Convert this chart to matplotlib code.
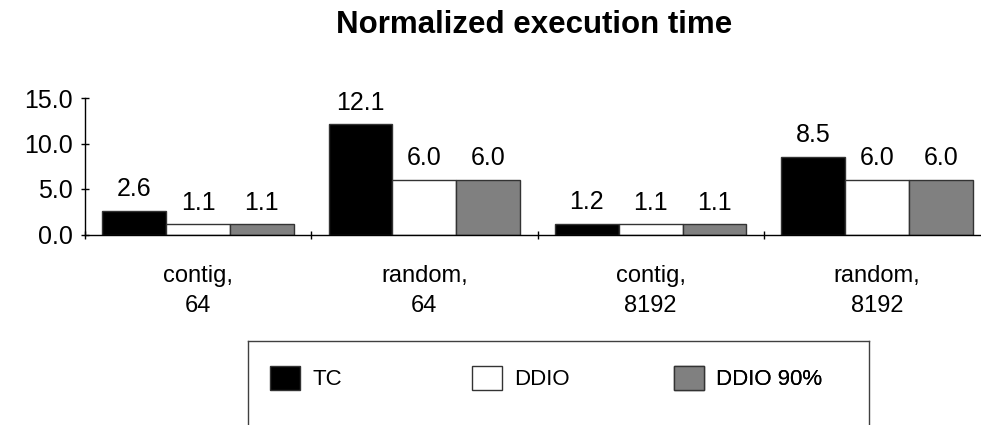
import matplotlib
matplotlib.use("Agg")
import matplotlib.pyplot as plt
import numpy as np

plt.rcParams['font.family'] = ['Liberation Sans', 'DejaVu Sans']

categories = ["contig,\n64", "random,\n64", "contig,\n8192", "random,\n8192"]
series_names = ["TC", "DDIO", "DDIO 90%"]
tc = [2.6, 12.1, 1.2, 8.5]
ddio = [1.1, 6.0, 1.1, 6.0]
ddio90 = [1.1, 6.0, 1.1, 6.0]
yticks = [0.0, 5.0, 10.0, 15.0]
colors = ["#000000", "#ffffff", "#808080"]

W, H = 981, 425
fig = plt.figure(figsize=(W / 100, H / 100), dpi=100)

ax = fig.add_axes([85 / W, 1 - 234.5 / H, 905 / W, 136.5 / H])
x = np.arange(len(categories))
bw = 0.282
handles = []
for i, (vals, name, c) in enumerate(zip([tc, ddio, ddio90], series_names, colors)):
    bars = ax.bar(x + (i - 1) * bw, vals, width=bw, color=c, edgecolor="#333333",
                  linewidth=1.0, label=name)
    ax.bar_label(bars, labels=[f"{v:.1f}" for v in vals], padding=7, fontsize=18)
    handles.append(bars)

ax.set_xlim(-0.5, 3.5)
ax.set_ylim(0, 15)
ax.set_yticks(yticks)
ax.set_yticklabels([f"{v:.1f}" for v in yticks], fontsize=18)
ax.set_xticks(np.arange(-0.5, 4.0, 1.0))
ax.set_xticklabels([])
ax.set_xticks(x, minor=True)
ax.set_xticklabels(categories, minor=True, fontsize=17, linespacing=1.45)
ax.tick_params(axis='x', which='minor', length=0, pad=22)
ax.tick_params(axis='x', which='major', direction='inout', length=6, width=1)
ax.tick_params(axis='y', direction='inout', length=6, width=1, pad=6)
for s in ["top", "right"]:
    ax.spines[s].set_visible(False)
for s in ["left", "bottom"]:
    ax.spines[s].set_linewidth(1.0)

fig.text(534 / W, 1 - 25 / H, "Normalized execution time", ha="center", va="center",
         fontsize=22.5, fontweight="bold")

# legend box (bottom edge lies below the figure)
lw = 869 - 248
lax = fig.add_axes([248 / W, 1 - 441 / H, lw / W, 100 / H])
lax.set_xticks([])
lax.set_yticks([])
lax.patch.set_alpha(0)
for s in lax.spines.values():
    s.set_edgecolor("#404040")
    s.set_linewidth(1.0)

legend_x = [(270 - 248) / lw, (472 - 248) / lw, (674 - 248) / lw]
for hx, h, name in zip(legend_x, handles, series_names):
    leg = lax.legend(handles=[h], labels=[name], loc="center left",
                     bbox_to_anchor=(hx, 0.63), frameon=False, fontsize=16,
                     handlelength=1.35, handleheight=1.35, handletextpad=0.55,
                     borderpad=0, borderaxespad=0)
    lax.add_artist(leg)

fig.savefig("out.png", dpi=100)
